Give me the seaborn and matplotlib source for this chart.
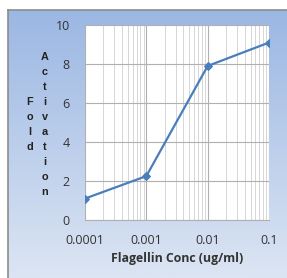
import numpy as np
import pandas as pd
import matplotlib
matplotlib.use("Agg")
import matplotlib.pyplot as plt
from matplotlib.colors import LinearSegmentedColormap
from matplotlib.ticker import FixedLocator, FixedFormatter, LogLocator, NullFormatter
import seaborn as sns

# Data
conc = [0.0001, 0.001, 0.01, 0.1]
conc_labels = ["0.0001", "0.001", "0.01", "0.1"]
fold = [1.1, 2.25, 7.9, 9.1]
y_ticks = [0, 2, 4, 6, 8, 10]

df = pd.DataFrame({"conc": conc, "fold": fold})

sns.set_style("white")
plt.rcParams["font.family"] = ["Open Sans", "DejaVu Sans"]

fig = plt.figure(figsize=(2.87, 2.78), dpi=100)

# gradient background frame
W, H = 287, 278
bg = fig.add_axes([8 / W, 0, 1 - 8 / W, 1 - 10 / H])
cmap = LinearSegmentedColormap.from_list("bgc", ["#9bb7e3", "#dce5f3"])
grad = np.linspace(0, 1, 256).reshape(-1, 1)
bg.imshow(grad, aspect="auto", cmap=cmap, extent=[0, 1, 0, 1], origin="upper")
bg.set_xticks([])
bg.set_yticks([])
for side in ["right", "bottom"]:
    bg.spines[side].set_visible(False)
for side in ["left", "top"]:
    bg.spines[side].set_color("#8c8c8c")
    bg.spines[side].set_linewidth(1.2)

ax = fig.add_axes([85 / W, 1 - 220 / H, (269 - 85) / W, (220 - 25) / H])
ax.set_facecolor("white")
sns.lineplot(data=df, x="conc", y="fold", ax=ax, color="#4a7ebb", lw=1.6,
             marker="D", markersize=4, markeredgecolor="#4a7ebb")
ax.set_xscale("log")
ax.set_xlim(0.0001, 0.1)
ax.set_ylim(0, 10)
ax.xaxis.set_major_locator(FixedLocator(conc))
ax.xaxis.set_major_formatter(FixedFormatter(conc_labels))
ax.xaxis.set_minor_locator(LogLocator(base=10, subs=np.arange(2, 10)))
ax.xaxis.set_minor_formatter(NullFormatter())
ax.set_yticks(y_ticks)
ax.grid(which="major", axis="both", color="#b0b0b0", lw=0.8)
ax.grid(which="minor", axis="x", color="#d0d0d0", lw=0.6)
for side in ["top", "right", "left"]:
    ax.spines[side].set_visible(False)
ax.spines["bottom"].set_color("#b0b0b0")
ax.tick_params(axis="x", which="major", length=4, color="#b0b0b0", labelsize=9,
               labelcolor="#333333", pad=6)
ax.tick_params(axis="x", which="minor", length=2, color="#b0b0b0")
ax.tick_params(axis="y", length=0, labelsize=9, labelcolor="#333333", pad=11)
ax.set_xlabel("Flagellin Conc (ug/ml)", fontsize=8.8, fontweight="bold",
              color="#333333", labelpad=4)
ax.set_ylabel("")

# stacked vertical y label, one letter per row (15 px pitch)
def stacked(word, x, yc):
    n = len(word)
    for i, ch in enumerate(word):
        y = yc + (i - (n - 1) / 2) * 15
        fig.text(x / W, 1 - y / H, ch, ha="center", va="center",
                 fontsize=7.8, fontweight="bold", family="Liberation Sans",
                 color="#222222")

stacked("Fold", 30, 124.5)
stacked("Activation", 45, 124.5)

fig.savefig("out.png", dpi=100)
